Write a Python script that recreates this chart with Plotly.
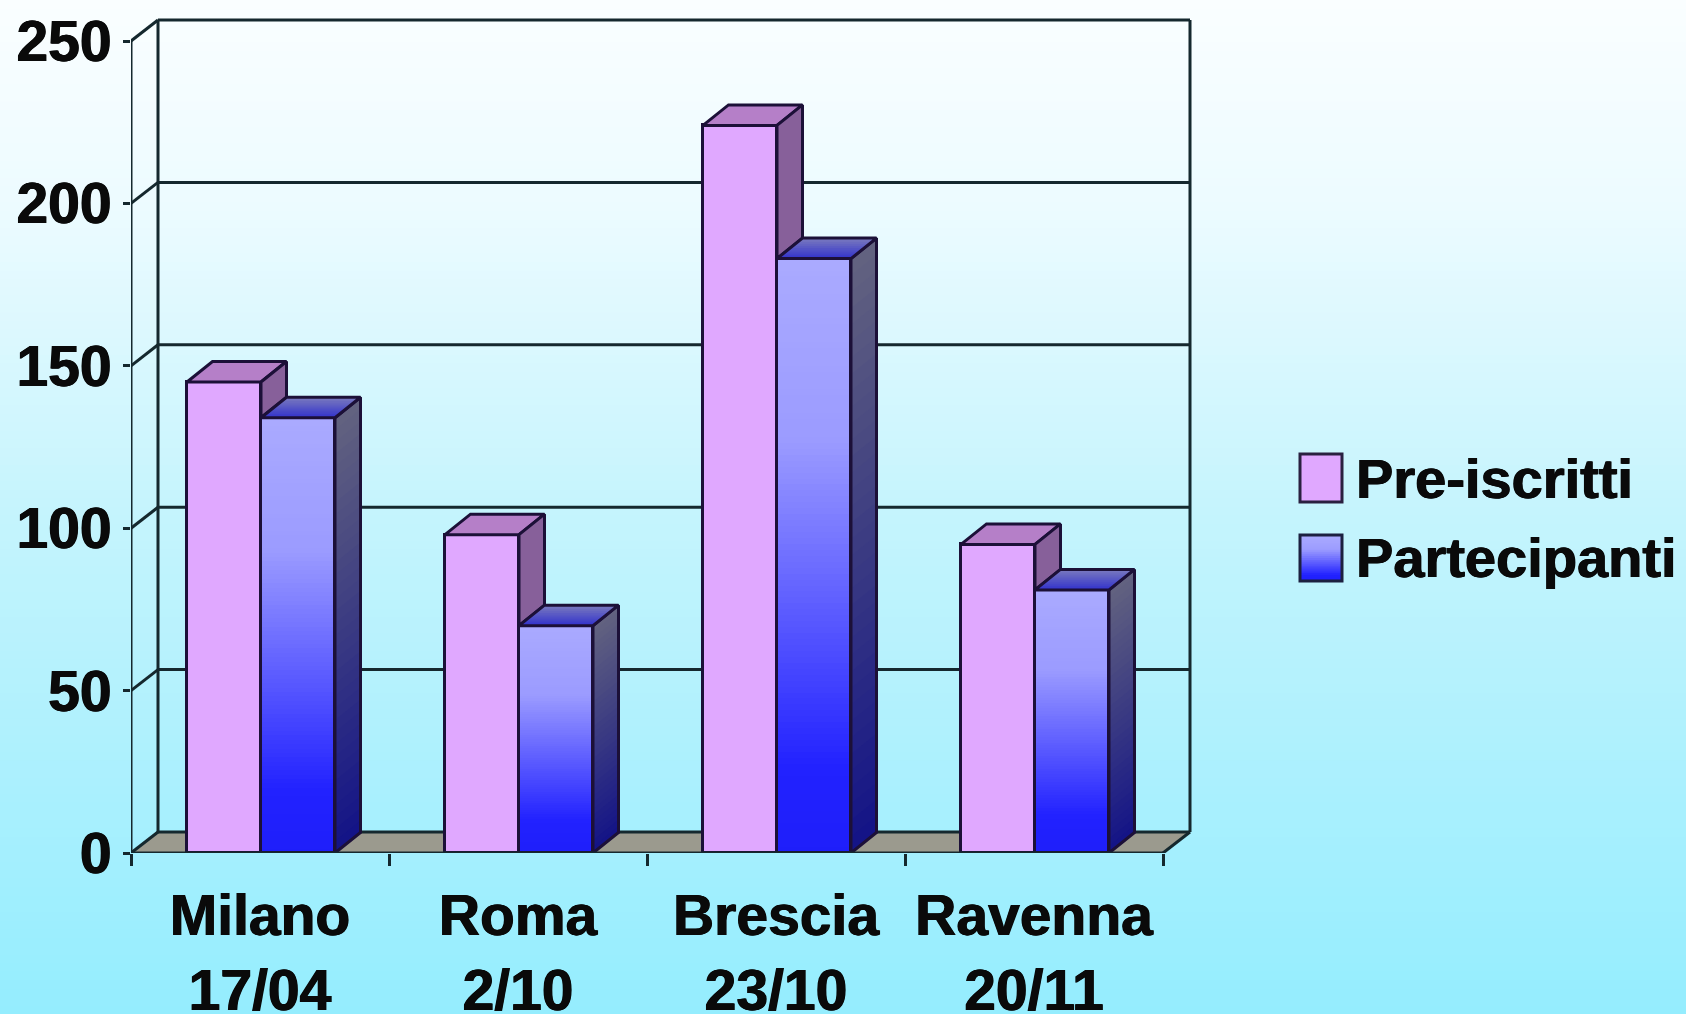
import plotly.graph_objects as go

categories = ["Milano<br>17/04", "Roma<br>2/10", "Brescia<br>23/10", "Ravenna<br>20/11"]
series_names = ["Pre-iscritti", "Partecipanti"]
pre_iscritti = [145, 98, 224, 95]
partecipanti = [134, 70, 183, 81]
y_ticks = [0, 50, 100, 150, 200, 250]

W, H = 1686, 1014
L, R, T, B = 131, 1196, 14, 853
PX_X = 258.0
PX_Y = 3.248
X_MAX = (R - L) / PX_X
Y_MAX = (B - T) / PX_Y
X_BACK = (1190 - L) / PX_X
WALL_DX, WALL_DY = 27 / PX_X, 21 / PX_Y
BAR_DX, BAR_DY = 25.5 / PX_X, 20.5 / PX_Y
BAR_W = 74 / PX_X
BAR_SHIFT = 1 / PX_X
LINE = "#15282e"
EDGE = "#1c1038"
PRE = "#e0a8ff"


def lerp(stops, t):
    for (t0, c0), (t1, c1) in zip(stops, stops[1:]):
        if t <= t1:
            f = (t - t0) / (t1 - t0) if t1 > t0 else 0
            return "rgb(%d,%d,%d)" % tuple(round(a + (b - a) * f) for a, b in zip(c0, c1))
    return "rgb(%d,%d,%d)" % stops[-1][1]


BG = [(0, (250, 254, 255)), (0.2, (236, 251, 255)), (0.5, (197, 244, 253)), (1, (148, 237, 254))]
FRONT = [(0, (170, 170, 255)), (0.3, (155, 155, 255)), (0.85, (34, 34, 255)), (1, (30, 30, 250))]
SIDE = [(0, (98, 98, 128)), (0.45, (62, 62, 130)), (1, (18, 18, 135))]
TOP = [(0, (120, 120, 190)), (1, (45, 45, 205))]


def px(x):
    return (x - L) / (R - L)


def py(y):
    return (B - y) / (B - T)


shapes = []
# page background
N_BG = 120
for k in range(N_BG):
    shapes.append(dict(type="rect", xref="paper", yref="paper", layer="below",
                       x0=px(0), x1=px(W), y0=py(H), y1=py(H * k / N_BG),
                       fillcolor=lerp(BG, k / N_BG), line_width=0))


def seg(x0, y0, x1, y1, width=3):
    shapes.append(dict(type="line", xref="x", yref="y", layer="below", x0=x0, y0=y0, x1=x1, y1=y1,
                       line=dict(color=LINE, width=width)))


# floor
shapes.append(dict(type="path", xref="x", yref="y", layer="below",
                   path=f"M 0 0 L {WALL_DX} {WALL_DY} L {X_BACK} {WALL_DY} L {X_BACK - WALL_DX} 0 Z",
                   fillcolor="#9b9a8e", line=dict(color=LINE, width=1)))
# walls, grid and the front axis lines
seg(WALL_DX, WALL_DY, WALL_DX, 250 + WALL_DY)
seg(X_BACK, WALL_DY, X_BACK, 250 + WALL_DY)
seg(X_BACK - WALL_DX, 0, X_BACK, WALL_DY)
seg(0, 0, 0, 250)
for v in y_ticks:
    seg(0, v, WALL_DX, v + WALL_DY)
    seg(WALL_DX, v + WALL_DY, X_BACK, v + WALL_DY)

traces = []


def poly(xs, ys, fill, line=None):
    traces.append(go.Scatter(x=xs, y=ys, mode="lines", fill="toself", fillcolor=fill, hoverinfo="skip",
                             showlegend=False,
                             line=dict(color=line or "rgba(0,0,0,0)", width=3 if line else 0)))


N = 100
n_cat = len(categories)
tick_centers = [i + 0.5 for i in range(n_cat)]
centers = [c + BAR_SHIFT for c in tick_centers]
# front faces of the bars
traces.append(go.Bar(x=[c - BAR_W for c in centers], y=pre_iscritti, width=BAR_W, offset=0,
                     marker=dict(color=PRE, line=dict(color=EDGE, width=3)), name=series_names[0],
                     showlegend=False))
gx, gy, gc = [], [], []
for c, v in zip(centers, partecipanti):
    for k in range(N):
        gx.append(c)
        gy.append(v * (1 - k / N))
        gc.append(lerp(FRONT, k / N))
traces.append(go.Bar(x=gx, y=gy, width=BAR_W, offset=0, marker=dict(color=gc, line_width=0),
                     name=series_names[1], showlegend=False))
traces.append(go.Bar(x=centers, y=partecipanti, width=BAR_W, offset=0,
                     marker=dict(color="rgba(0,0,0,0)", line=dict(color=EDGE, width=3)),
                     showlegend=False, hoverinfo="skip"))

# depth faces
for c, p, q in zip(centers, pre_iscritti, partecipanti):
    a, b = c - BAR_W, c
    poly([a, a + BAR_DX, b + BAR_DX, b, a], [p, p + BAR_DY, p + BAR_DY, p, p], "#b57fc8", EDGE)
    poly([b, b + BAR_DX, b + BAR_DX, b, b], [p, p + BAR_DY, q + BAR_DY, q, p], "#87609a", EDGE)
    r = c + BAR_W
    M = 36
    for k in range(M):
        yt = q * (1 - k / M)
        poly([r, r + BAR_DX, r + BAR_DX, r, r], [yt, yt + BAR_DY, BAR_DY, 0, yt], lerp(SIDE, k / M))
    poly([r, r + BAR_DX, r + BAR_DX, r, r], [q, q + BAR_DY, BAR_DY, 0, q], "rgba(0,0,0,0)", EDGE)
    M = 10
    for k in range(M):
        d = BAR_DY * (1 - k / M)
        s = BAR_DX * (1 - k / M)
        poly([c, c + s, r + s, r, c], [q, q + d, q + d, q, q], lerp(TOP, k / M))
    poly([c, c + BAR_DX, r + BAR_DX, r, c], [q, q + BAR_DY, q + BAR_DY, q, q], "rgba(0,0,0,0)", EDGE)

# the x axis line runs over the bars' feet, up to the last tick only
poly([0, n_cat], [0, 0], "rgba(0,0,0,0)", LINE)

# legend swatches
shapes_top = []
SW = [(1300, 454, 1342, 502), (1300, 535, 1342, 581)]
shapes_top.append(dict(type="rect", xref="paper", yref="paper", x0=px(SW[0][0]), x1=px(SW[0][2]),
                       y0=py(SW[0][3]), y1=py(SW[0][1]), fillcolor=PRE, line=dict(color="#2a2040", width=3)))
x0, y0, x1, y1 = SW[1]
for k in range(24):
    shapes_top.append(dict(type="rect", xref="paper", yref="paper", x0=px(x0), x1=px(x1),
                           y0=py(y1), y1=py(y0 + (y1 - y0) * k / 24),
                           fillcolor=lerp(FRONT, k / 24), line_width=0))
shapes_top.append(dict(type="rect", xref="paper", yref="paper", x0=px(x0), x1=px(x1), y0=py(y1), y1=py(y0),
                       fillcolor="rgba(0,0,0,0)", line=dict(color="#1c2040", width=3)))

FONT = dict(family="Liberation Sans", size=57, color="#0a0a0a", weight="bold",
            shadow="0.6px 0 0.6px #0a0a0a, -0.6px 0 0.6px #0a0a0a")
annotations = [
    dict(xref="paper", yref="paper", x=px(1354), y=py(478), text=series_names[0], showarrow=False,
         xanchor="left", yanchor="middle", font=dict(FONT, size=56)),
    dict(xref="paper", yref="paper", x=px(1354), y=py(557), text=series_names[1], showarrow=False,
         xanchor="left", yanchor="middle", font=dict(FONT, size=56)),
]

fig = go.Figure(traces)
fig.update_layout(
    width=W, height=H, autosize=False,
    margin=dict(l=L, r=W - R, t=T, b=H - B, pad=0, autoexpand=False),
    paper_bgcolor="#c5f4fd", plot_bgcolor="rgba(0,0,0,0)",
    barmode="overlay", showlegend=False, bargap=0,
    shapes=shapes + shapes_top, annotations=annotations,
    xaxis=dict(range=[0, X_MAX], tickvals=tick_centers, ticktext=categories, tickfont=FONT, automargin=False,
               ticks="outside", ticklen=13, tickcolor="rgba(0,0,0,0)",
               minor=dict(tickvals=list(range(n_cat + 1)), ticks="outside", ticklen=12,
                          tickcolor=LINE, tickwidth=3),
               showgrid=False, zeroline=False, showline=False),
    yaxis=dict(range=[0, Y_MAX], tickvals=y_ticks, tickfont=FONT, automargin=False, ticks="outside",
               ticklen=7, tickcolor=LINE, tickwidth=3, showgrid=False, zeroline=False, showline=False),
)
fig.write_html("out.html", config=dict(displayModeBar=False),
               post_script="document.body.style.margin='0';document.documentElement.style.overflow='hidden';")
